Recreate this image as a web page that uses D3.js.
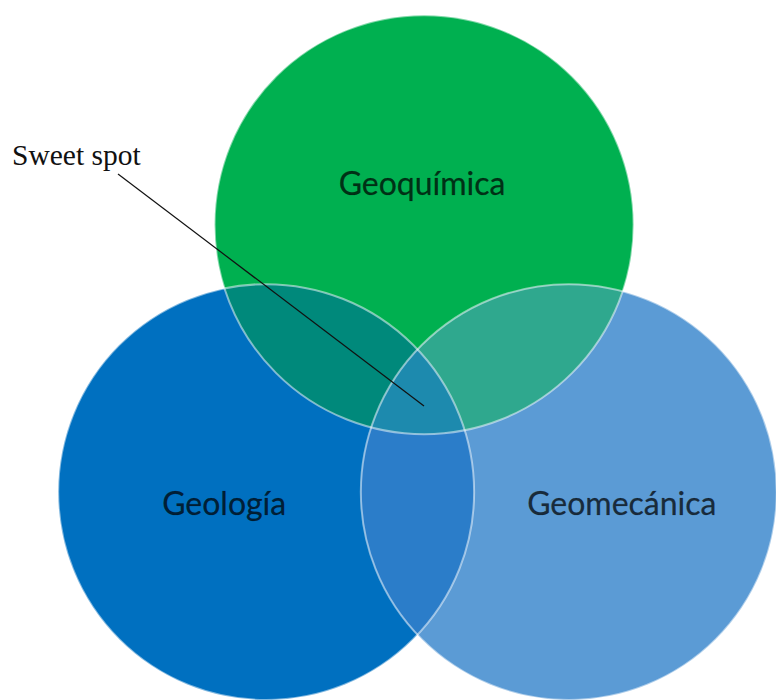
<!DOCTYPE html>
<html>
<head>
<meta charset="utf-8">
<script src="https://cdn.jsdelivr.net/npm/d3@7"></script>
<style>
  body { margin: 0; background: #fff; }
</style>
</head>
<body>
<div id="venn"></div>
<script>
// Sets of the diagram (top, left, right)
var sets = ["Geoquímica", "Geología", "Geomecánica"];
var setColors = ["#00b050", "#0070c0", "#5b9bd5"];

// Overlap regions: which two sets, and the colour of the lens
var pairs = [[0, 1], [0, 2], [1, 2]];
var pairColors = ["#00897b", "#2fa88e", "#2b7dc9"];
var tripleColor = "#1d8aae";

var annotation = "Sweet spot";

// Layout of the page
var svgWidth = 776;
var svgHeight = 700;

// circle layout in unit coords, mapped to pixels by the scales
var layout = {
  cx: [0.5465, 0.343, 0.733],
  cy: [0.321, 0.703, 0.703],
  r: [0.27, 0.268, 0.268]
};

var x = d3.scaleLinear().domain([0, 1]).range([0, 776]);
var y = d3.scaleLinear().domain([0, 1]).range([0, 700]);

var circles = sets.map(function(name, i) {
  return {
    name: name,
    color: setColors[i],
    cx: x(layout.cx[i]),
    cy: y(layout.cy[i]),
    r: x(layout.r[i]) - x(0)
  };
});

var svg = d3.select("#venn")
  .append("svg")
  .attr("width", svgWidth)
  .attr("height", svgHeight);

// clip paths, one per circle
var defs = svg.append("defs");
circles.forEach(function(c, i) {
  defs.append("clipPath")
    .attr("id", "clip" + i)
    .append("circle")
    .attr("cx", c.cx)
    .attr("cy", c.cy)
    .attr("r", c.r);
});

// full circles
svg.selectAll(".set")
  .data(circles)
  .enter()
  .append("circle")
  .attr("class", "set")
  .attr("cx", d => d.cx)
  .attr("cy", d => d.cy)
  .attr("r", d => d.r)
  .attr("fill", d => d.color);

// pairwise lenses
pairs.forEach(function(p, k) {
  var b = circles[p[1]];
  svg.append("g")
    .attr("clip-path", "url(#clip" + p[0] + ")")
    .append("circle")
    .attr("cx", b.cx)
    .attr("cy", b.cy)
    .attr("r", b.r)
    .attr("fill", pairColors[k]);
});

// centre region
svg.append("g")
  .attr("clip-path", "url(#clip0)")
  .append("g")
  .attr("clip-path", "url(#clip1)")
  .append("circle")
  .attr("cx", circles[2].cx)
  .attr("cy", circles[2].cy)
  .attr("r", circles[2].r)
  .attr("fill", tripleColor);

// light outlines
svg.selectAll(".outline")
  .data(circles)
  .enter()
  .append("circle")
  .attr("class", "outline")
  .attr("cx", d => d.cx)
  .attr("cy", d => d.cy)
  .attr("r", d => d.r)
  .attr("fill", "none")
  .attr("stroke", "#ffffff")
  .attr("stroke-opacity", 0.5)
  .attr("stroke-width", 2);

// set labels
var labelPos = [[-2, -30], [-42, 23], [53, 23]];
svg.selectAll(".label")
  .data(circles)
  .enter()
  .append("text")
  .attr("class", "label")
  .attr("x", (d, i) => d.cx + labelPos[i][0])
  .attr("y", (d, i) => d.cy + labelPos[i][1])
  .attr("text-anchor", "middle")
  .attr("font-family", "Lato, 'Open Sans', sans-serif")
  .attr("font-size", 32)
  .attr("fill", "#000")
  .attr("fill-opacity", 0.72)
  .attr("stroke", "#000")
  .attr("stroke-opacity", 0.3)
  .attr("stroke-width", 0.6)
  .text(d => d.name);

// sweet spot pointer
svg.append("line")
  .attr("x1", 118)
  .attr("y1", 174)
  .attr("x2", 424)
  .attr("y2", 406)
  .attr("stroke", "#111")
  .attr("stroke-width", 1.2);

svg.append("text")
  .attr("x", 12)
  .attr("y", 165)
  .attr("font-family", "'Liberation Serif', 'Times New Roman', serif")
  .attr("font-size", 29.5)
  .attr("fill", "#111")
  .text(annotation);
</script>
</body>
</html>
